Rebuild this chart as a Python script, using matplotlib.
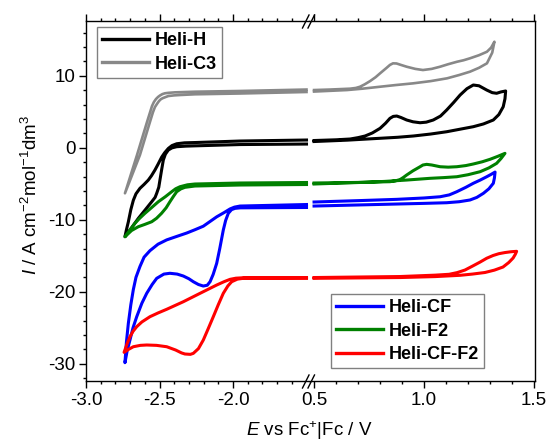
import matplotlib
matplotlib.use("Agg")
import matplotlib.pyplot as plt
from matplotlib.lines import Line2D
from matplotlib.ticker import FixedLocator, MultipleLocator

plt.rcParams['font.family'] = ['Liberation Sans', 'DejaVu Sans']
plt.rcParams['mathtext.fontset'] = 'custom'
plt.rcParams['mathtext.rm'] = 'Liberation Sans'
plt.rcParams['mathtext.it'] = 'Liberation Sans:italic'
plt.rcParams['axes.unicode_minus'] = False

# ---- DATA (E in V, I in A cm-2 mol-1 dm3), one loop per window ----
# Heli-H
h_left_e = [-1.5, -1.952, -2.259, -2.33, -2.383, -2.415, -2.44, -2.465, -2.485, -2.51, -2.531, -2.555, -2.576,
            -2.605, -2.633, -2.66, -2.678, -2.695, -2.712, -2.725, -2.735,
            -2.70, -2.644, -2.6, -2.553, -2.53, -2.519, -2.505, -2.497, -2.485, -2.474, -2.46, -2.44, -2.415,
            -2.383, -2.32, -2.259, -1.952, -1.5]
h_left_i = [1.07, 0.93, 0.72, 0.68, 0.55, 0.3, -0.1, -0.7, -1.3, -2.3, -3.1, -3.9, -4.49,
            -5.1, -5.64, -6.4, -7.3, -8.6, -10.3, -11.4, -12.36,
            -11.4, -9.81, -8.7, -7.5, -6.9, -6.33, -5.5, -4.49, -3.0, -1.71, -0.9, -0.32, -0.02,
            0.14, 0.22, 0.26, 0.44, 0.51]
h_right_e = [0.5, 0.6, 0.664, 0.70, 0.732, 0.765, 0.8, 0.825, 0.845, 0.86, 0.876, 0.895, 0.921, 0.95, 0.982,
             1.01, 1.042, 1.075, 1.103, 1.135, 1.164, 1.195, 1.224, 1.25, 1.285, 1.31, 1.33, 1.35, 1.371,
             1.368, 1.36, 1.34, 1.315, 1.27, 1.224, 1.16, 1.103, 1.03, 0.952, 0.88, 0.8, 0.65, 0.5]
h_right_i = [1.0, 1.1, 1.21, 1.4, 1.63, 2.05, 2.69, 3.4, 4.08, 4.35, 4.4, 4.2, 3.85, 3.6, 3.47,
             3.55, 3.85, 4.4, 5.24, 6.3, 7.32, 8.2, 8.71, 8.6, 8.01, 7.65, 7.56, 7.75, 7.88,
             6.8, 5.69, 4.6, 3.85, 3.3, 2.92, 2.55, 2.22, 1.9, 1.63, 1.45, 1.31, 1.05, 0.86]

# Heli-C3
c3_left_e = [-1.5, -1.952, -2.259, -2.395, -2.44, -2.463, -2.48, -2.497, -2.51, -2.524, -2.538, -2.551,
             -2.585, -2.653, -2.735,
             -2.633, -2.565, -2.545, -2.531, -2.515, -2.503, -2.49, -2.476, -2.44, -2.40, -2.36, -2.259,
             -1.952, -1.5]
c3_left_i = [8.08, 7.88, 7.78, 7.69, 7.62, 7.56, 7.45, 7.25, 7.05, 6.76, 6.35, 5.79,
             3.57, -1.01, -6.33,
             -1.01, 3.57, 4.9, 5.65, 6.15, 6.49, 6.75, 6.9, 7.18, 7.27, 7.32, 7.42,
             7.53, 7.74]
c3_right_e = [0.5, 0.573, 0.664, 0.69, 0.709, 0.73, 0.755, 0.78, 0.8, 0.83, 0.845, 0.859, 0.875, 0.895, 0.921,
              0.96, 0.995, 1.035, 1.073, 1.11, 1.15, 1.18, 1.209, 1.25, 1.286, 1.305, 1.32,
              1.31, 1.286, 1.25, 1.209, 1.16, 1.105, 1.03, 0.95, 0.87, 0.8, 0.72, 0.65, 0.5]
c3_right_i = [8.01, 8.08, 8.2, 8.3, 8.47, 8.8, 9.26, 9.8, 10.33, 11.1, 11.5, 11.72, 11.7, 11.5, 11.25,
              10.95, 10.79, 10.95, 11.25, 11.6, 11.94, 12.15, 12.42, 12.85, 13.33, 13.9, 14.72,
              13.2, 11.72, 11.1, 10.56, 10.1, 9.64, 9.25, 8.94, 8.7, 8.47, 8.2, 8.01, 7.8]

# Heli-CF
cf_left_e = [-1.5, -1.952, -1.99, -2.02, -2.06, -2.111, -2.16, -2.202, -2.26, -2.315, -2.38, -2.451, -2.51,
             -2.565, -2.605, -2.633, -2.66, -2.678, -2.695, -2.712, -2.725, -2.735,
             -2.72, -2.701, -2.68, -2.655, -2.62, -2.587, -2.55, -2.519, -2.47, -2.429, -2.38, -2.338, -2.30,
             -2.27, -2.235, -2.202, -2.175, -2.156, -2.135, -2.111, -2.09, -2.066, -2.05, -2.032, -2.01,
             -1.986, -1.95, -1.5]
cf_left_i = [-7.89, -8.1, -8.25, -8.5, -9.0, -9.6, -10.3, -10.9, -11.4, -11.85, -12.3, -12.8, -13.4,
             -14.3, -15.2, -16.5, -18.0, -19.7, -21.8, -24.4, -27.0, -29.86,
             -28.2, -26.71, -25.0, -23.47, -21.6, -20.22, -19.0, -18.14, -17.55, -17.44, -17.55, -17.82, -18.2,
             -18.61, -19.0, -19.21, -19.1, -18.61, -17.6, -16.06, -14.0, -11.43, -10.1, -9.11, -8.6,
             -8.42, -8.35, -8.3]
cf_right_e = [0.5, 0.7, 0.876, 1.0, 1.073, 1.115, 1.149, 1.19, 1.224, 1.255, 1.285, 1.305, 1.323,
              1.32, 1.315, 1.295, 1.27, 1.24, 1.209, 1.16, 1.103, 1.0, 0.876, 0.7, 0.5]
cf_right_i = [-7.54, -7.35, -7.17, -6.98, -6.81, -6.55, -6.11, -5.5, -4.94, -4.5, -4.03, -3.7, -3.38,
              -4.2, -4.94, -5.7, -6.33, -6.9, -7.26, -7.5, -7.64, -7.73, -7.82, -7.95, -8.1]

# Heli-F2
f2_left_e = [-1.5, -1.952, -2.259, -2.31, -2.361, -2.39, -2.417, -2.46, -2.508, -2.55, -2.599, -2.635,
             -2.667, -2.7, -2.735,
             -2.69, -2.644, -2.6, -2.553, -2.52, -2.486, -2.455, -2.429, -2.405, -2.383, -2.355, -2.327,
             -2.259, -1.952, -1.5]
f2_left_i = [-4.83, -4.9, -5.04, -5.15, -5.42, -5.7, -6.11, -6.8, -7.5, -8.25, -9.11, -9.8,
             -10.5, -11.4, -12.36,
             -11.5, -10.97, -10.65, -10.28, -9.8, -9.11, -8.35, -7.5, -6.75, -6.11, -5.72, -5.5,
             -5.32, -5.18, -5.11]
f2_right_e = [0.5, 0.7, 0.845, 0.87, 0.891, 0.905, 0.921, 0.95, 0.982, 0.995, 1.012, 1.035, 1.073, 1.11,
              1.149, 1.19, 1.224, 1.265, 1.3, 1.335, 1.368,
              1.35, 1.33, 1.295, 1.255, 1.2, 1.149, 1.09, 1.027, 0.921, 0.82, 0.724, 0.5]
f2_right_i = [-4.9, -4.82, -4.72, -4.6, -4.42, -4.15, -3.79, -3.2, -2.64, -2.4, -2.31, -2.4, -2.64, -2.7,
              -2.64, -2.48, -2.26, -1.95, -1.61, -1.2, -0.78,
              -1.5, -2.17, -2.8, -3.33, -3.75, -4.03, -4.15, -4.25, -4.49, -4.68, -4.81, -5.04]

# Heli-CF-F2
cff2_left_e = [-1.5, -1.93, -1.98, -2.02, -2.06, -2.111, -2.224, -2.338, -2.451, -2.51, -2.565, -2.62, -2.655,
               -2.68, -2.701, -2.72, -2.741,
               -2.71, -2.678, -2.63, -2.587, -2.52, -2.451, -2.39, -2.35, -2.327, -2.29, -2.27, -2.235,
               -2.202, -2.17, -2.134, -2.10, -2.066, -2.035, -2.009, -1.97, -1.93, -1.5]
cff2_left_i = [-18.03, -18.06, -18.12, -18.28, -18.6, -19.07, -20.22, -21.39, -22.44, -22.95, -23.47, -24.2,
               -24.86, -25.5, -26.25, -27.2, -28.42,
               -28.0, -27.64, -27.45, -27.4, -27.45, -27.64, -28.1, -28.5, -28.65, -28.7, -28.56, -27.9,
               -26.71, -25.2, -23.47, -21.8, -20.22, -19.2, -18.61, -18.25, -18.14, -18.14]
cff2_right_e = [0.5, 0.891, 1.05, 1.114, 1.15, 1.186, 1.22, 1.255, 1.285, 1.314, 1.34, 1.368, 1.395, 1.421,
                1.415, 1.405, 1.385, 1.359, 1.32, 1.277, 1.22, 1.164, 1.05, 0.891, 0.5]
cff2_right_i = [-18.03, -17.89, -17.7, -17.58, -17.35, -16.99, -16.45, -15.88, -15.35, -14.97, -14.72, -14.56,
                -14.45, -14.39,
                -14.8, -15.32, -15.95, -16.57, -17.0, -17.33, -17.55, -17.72, -17.9, -18.03, -18.14]

W, H = 552, 442


def fx(px):
    return px / W


def fy(py):
    return 1 - py / H


fig = plt.figure(figsize=(5.52, 4.42), dpi=100)
axL = fig.add_axes([fx(86), fy(381), (309 - 86) / W, 360 / H])
axR = fig.add_axes([fx(309), fy(381), (535 - 309) / W, 360 / H])

series = [
    ("Heli-C3", "#888888", 1.9, c3_left_e, c3_left_i, c3_right_e, c3_right_i),
    ("Heli-H", "black", 2.2, h_left_e, h_left_i, h_right_e, h_right_i),
    ("Heli-CF", "#0000ff", 2.2, cf_left_e, cf_left_i, cf_right_e, cf_right_i),
    ("Heli-F2", "#008000", 2.2, f2_left_e, f2_left_i, f2_right_e, f2_right_i),
    ("Heli-CF-F2", "#ff0000", 2.2, cff2_left_e, cff2_left_i, cff2_right_e, cff2_right_i),
]
handles = {}
for name, col, lw, le, li, re_, ri in series:
    axL.plot(le, li, color=col, lw=lw, solid_joinstyle='round')
    axR.plot(re_, ri, color=col, lw=lw, solid_joinstyle='round')
    handles[name] = Line2D([], [], color=col, lw=2.4)

axL.set_xlim(-3.0, -1.483)
axR.set_xlim(0.477, 1.5045)
for ax in (axL, axR):
    ax.set_ylim(-32.4, 17.6)
    for s in ax.spines.values():
        s.set_linewidth(1.0)

axL.spines['right'].set_visible(False)
axR.spines['left'].set_visible(False)

axL.xaxis.set_major_locator(FixedLocator([-3.0, -2.5, -2.0]))
axL.xaxis.set_minor_locator(FixedLocator([-2.9, -2.8, -2.7, -2.6, -2.4, -2.3, -2.2, -2.1, -1.9, -1.8, -1.7, -1.6]))
axR.xaxis.set_major_locator(FixedLocator([0.5, 1.0, 1.5]))
axR.xaxis.set_minor_locator(FixedLocator([0.6, 0.7, 0.8, 0.9, 1.1, 1.2, 1.3, 1.4]))
axL.yaxis.set_major_locator(MultipleLocator(10))
axL.yaxis.set_minor_locator(MultipleLocator(2))

axL.tick_params(which='both', direction='out', top=True, right=False, labelsize=13.5, width=1)
axL.tick_params(which='major', length=4.7, pad=3)
axL.tick_params(which='minor', length=2.4)
axR.tick_params(which='both', direction='out', top=True, left=False, right=False,
                labelleft=False, labelsize=13.5, width=1)
axR.tick_params(which='major', length=4.7, pad=3)
axR.tick_params(which='minor', length=2.4)
axR.tick_params(axis='y', which='both', length=0)

# axis break marks
for y0, y1 in ((28, 15), (388, 375)):
    for x0 in (302.5, 308.0):
        fig.add_artist(Line2D([fx(x0), fx(x0 + 6.5)], [fy(y0), fy(y1)], color='black', lw=1.0))

fig.text(fx(309.5), fy(431), r'$E$ vs Fc$^{+}$|Fc / V', ha='center', va='center', fontsize=13.5)
fig.text(fx(31), fy(195), r'$I$ / A cm$^{-2}$mol$^{-1}$dm$^{3}$', ha='center', va='center',
         rotation=90, fontsize=13.5)

leg_kw = dict(loc='upper left', bbox_transform=fig.transFigure, frameon=True, fancybox=False,
              edgecolor='#808080', framealpha=1, borderpad=0.3, handlelength=2.6, handletextpad=0.3,
              labelspacing=0.35, borderaxespad=0, prop={'weight': 'bold', 'size': 13})
leg1 = fig.legend([handles['Heli-H'], handles['Heli-C3']], ['Heli-H', 'Heli-C3'],
                  bbox_to_anchor=(fx(97), fy(27)), **leg_kw)
leg2 = fig.legend([handles['Heli-CF'], handles['Heli-F2'], handles['Heli-CF-F2']],
                  ['Heli-CF', 'Heli-F2', 'Heli-CF-F2'],
                  bbox_to_anchor=(fx(331), fy(294)), **leg_kw)
for lg in (leg1, leg2):
    lg.get_frame().set_linewidth(1.0)

fig.savefig('out.png', dpi=100)
